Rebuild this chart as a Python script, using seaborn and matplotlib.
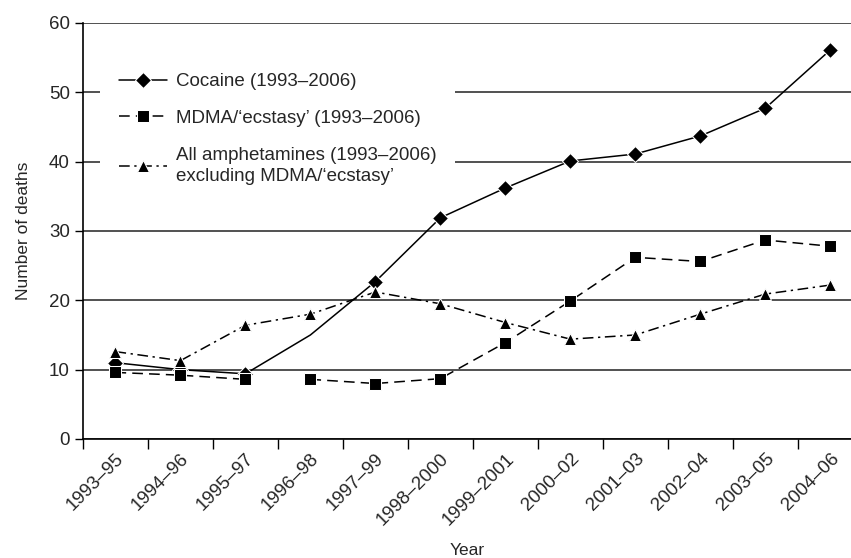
import numpy as np
import matplotlib
matplotlib.use("Agg")
import matplotlib.pyplot as plt
import seaborn as sns

# periods (3-year rolling)
periodos = ["1993–95", "1994–96", "1995–97", "1996–98", "1997–99", "1998–2000",
            "1999–2001", "2000–02", "2001–03", "2002–04", "2003–05", "2004–06"]

cocaina = [11.0, 10.0, 9.4, 15.0, 22.7, 31.9, 36.2, 40.1, 41.1, 43.7, 47.7, 56.1]
mdma = [9.6, 9.2, 8.6, 8.6, 8.0, 8.7, 13.9, 19.9, 26.2, 25.6, 28.7, 27.8]
anfetaminas = [12.6, 11.3, 16.4, 18.0, 21.2, 19.5, 16.8, 14.4, 15.0, 18.0, 20.9, 22.2]

# cocaine has no marker at 1996-98, MDMA series is broken after 1995-97
sin_marca = 3
corte_mdma = 3

sns.set_theme(style="white")
plt.rcParams["font.family"] = ["Liberation Sans", "DejaVu Sans"]

fig = plt.figure(figsize=(8.51, 5.58), dpi=100)
ax = fig.add_axes([0.0975, 0.2133, 0.9025, 0.7455])

x = np.arange(len(periodos))

sns.lineplot(x=x, y=cocaina, ax=ax, color="black", linewidth=1.1, linestyle="-",
             marker="D", markersize=8.5, markevery=[i for i in x if i != sin_marca],
             label="Cocaine (1993–2006)", zorder=3)

sns.lineplot(x=x[:corte_mdma], y=mdma[:corte_mdma], ax=ax, color="black", linewidth=1.1,
             linestyle=(0, (7, 4)), marker="s", markersize=8,
             label="MDMA/‘ecstasy’ (1993–2006)", zorder=3)
sns.lineplot(x=x[corte_mdma:], y=mdma[corte_mdma:], ax=ax, color="black", linewidth=1.1,
             linestyle=(0, (7, 4)), marker="s", markersize=8, legend=False, zorder=3)

sns.lineplot(x=x, y=anfetaminas, ax=ax, color="black", linewidth=1.1,
             linestyle=(0, (7, 3, 1.5, 3)), marker="^", markersize=8,
             label="All amphetamines (1993–2006)\nexcluding MDMA/‘ecstasy’", zorder=3)

ax.set_xlim(-0.5, 11.32)
ax.set_ylim(0, 60)
ax.set_yticks(range(0, 61, 10))
ax.yaxis.grid(True, color="#333333", linewidth=1.2, zorder=0)
ax.set_axisbelow(True)

ax.set_xticks(x)
ax.set_xticklabels(periodos, rotation=45, ha="right", rotation_mode="anchor")
ax.set_xticks(np.arange(-0.5, 11.5, 1), minor=True)
ax.tick_params(axis="x", which="major", length=0, pad=8, labelsize=13.5)
ax.tick_params(axis="x", which="minor", length=7, width=1, color="black", direction="out", bottom=True)
ax.tick_params(axis="y", length=6, width=1, color="black", direction="out", left=True, labelsize=13.5)

for lado in ["top", "right"]:
    ax.spines[lado].set_visible(False)
for lado in ["left", "bottom"]:
    ax.spines[lado].set_color("black")
    ax.spines[lado].set_linewidth(1.2)

ax.set_ylabel("Number of deaths", fontsize=12.5, labelpad=13)
ax.set_xlabel("Year", fontsize=12.5, labelpad=10)

leg = ax.legend(loc="upper left", bbox_to_anchor=(0.022, 0.925), fontsize=13.5,
                frameon=True, facecolor="white", edgecolor="none", framealpha=1,
                handlelength=2.6, handletextpad=0.45, labelspacing=1.05,
                borderpad=1.0, borderaxespad=0)
for t in leg.get_texts():
    t.set_linespacing(1.35)
leg.set_zorder(4)

fig.savefig("out.png", dpi=100)
